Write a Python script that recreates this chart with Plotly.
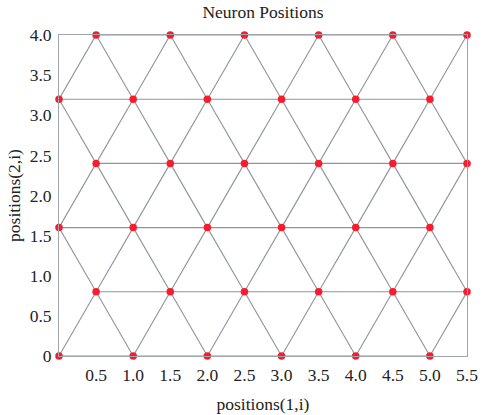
import plotly.graph_objects as go
import math

# Neuron positions (hextop 6x6 grid)
row_y = [0.0, 0.866, 1.732, 2.598, 3.464, 4.330]
row_x_even = [0.0, 1.0, 2.0, 3.0, 4.0, 5.0]
row_x_odd = [0.5, 1.5, 2.5, 3.5, 4.5, 5.5]

pos_x = []
pos_y = []
for r, yv in enumerate(row_y):
    xs = row_x_even if r % 2 == 0 else row_x_odd
    for xv in xs:
        pos_x.append(xv)
        pos_y.append(yv)

x_tick_labels = ["0.5", "1.0", "1.5", "2.0", "2.5", "3.0", "3.5", "4.0", "4.5", "5.0", "5.5"]
y_tick_labels = ["0", "0.5", "1.0", "1.5", "2.0", "2.5", "3.0", "3.5", "4.0"]

# neighbour edges (distance 1)
ex, ey = [], []
n = len(pos_x)
for i in range(n):
    for j in range(i + 1, n):
        d = math.hypot(pos_x[i] - pos_x[j], pos_y[i] - pos_y[j])
        if abs(d - 1.0) < 0.01:
            ex += [pos_x[i], pos_x[j], None]
            ey += [pos_y[i], pos_y[j], None]

ymax = row_y[-1]
yscale = ymax / 4.0

fig = go.Figure()
fig.add_trace(go.Scatter(x=ex, y=ey, mode="lines",
                         line=dict(color="#8e93a0", width=1.1),
                         hoverinfo="skip", showlegend=False, cliponaxis=False))
fig.add_trace(go.Scatter(x=pos_x, y=pos_y, mode="markers",
                         marker=dict(color="#f81c2c", size=7.5),
                         showlegend=False, cliponaxis=False))

font = dict(family="Liberation Serif, Times New Roman, serif", size=17.5, color="#222")
fig.update_layout(
    width=483, height=415,
    margin=dict(l=59, r=16, t=35, b=59),
    paper_bgcolor="white", plot_bgcolor="white",
    font=font,
    title=dict(text="Neuron Positions", x=0.5, xref="paper", xanchor="center",
               y=1, yref="paper", yanchor="bottom", pad=dict(b=17), font=font),
    xaxis=dict(range=[0, 5.5], tickvals=[float(t) for t in x_tick_labels],
               ticktext=x_tick_labels, showgrid=False, zeroline=False,
               showline=True, linecolor="#a0a4ac", linewidth=1, mirror=True,
               ticks="", ticklabelstandoff=3, automargin=False, tickfont=font,
               title=dict(text="positions(1,i)", standoff=13, font=font)),
    yaxis=dict(range=[0, ymax], tickvals=[float(t) * yscale for t in y_tick_labels],
               ticktext=y_tick_labels, showgrid=False, zeroline=False,
               showline=True, linecolor="#a0a4ac", linewidth=1, mirror=True,
               ticks="", ticklabelstandoff=3, automargin=False, tickfont=font,
               title=dict(text="positions(2,i)", standoff=4, font=font)),
)
fig.write_html("out.html", config={"displayModeBar": False},
               post_script="document.body.style.margin='0';document.body.style.padding='0';")
